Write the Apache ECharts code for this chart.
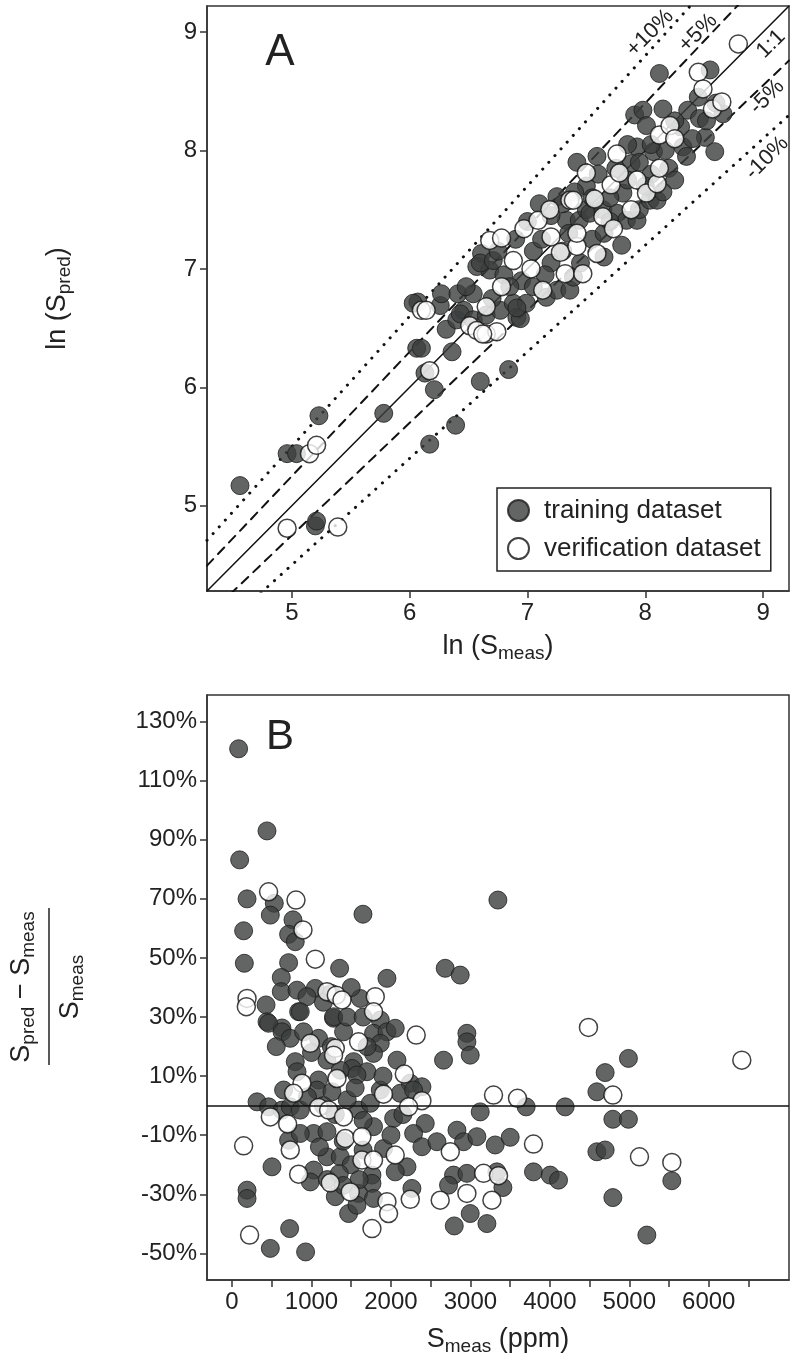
<!DOCTYPE html>
<html>
<head>
<meta charset="utf-8">
<script src="https://cdn.jsdelivr.net/npm/echarts@6/dist/echarts.min.js"></script>
<style>
html, body { margin: 0; padding: 0; background: #fff; }
#main { width: 791px; height: 1362px; }
</style>
</head>
<body>
<div id="main"></div>
<script>
// panel A: ln(S_meas), ln(S_pred)
var trainA = [
  [4.56,5.17],[4.96,5.44],[5.04,5.44],[5.23,5.76],[5.20,4.83],[5.21,4.87],[5.78,5.78],[6.17,5.52],
  [6.39,5.68],[6.60,6.05],[6.84,6.15],[6.21,5.98],[6.13,6.12],[6.36,6.30],[6.06,6.33],[6.10,6.33],
  [6.31,6.49],[6.40,6.57],[6.46,6.65],[6.07,6.72],[6.03,6.71],[6.26,6.69],[6.27,6.79],[6.41,6.79],
  [6.54,6.79],[6.48,6.85],[6.43,6.62],[6.54,6.57],[6.65,6.61],[6.61,7.13],[6.57,7.02],[6.68,6.99],
  [6.60,7.05],[6.71,7.07],[6.77,6.65],[6.88,6.71],[6.91,6.59],[6.94,6.58],[6.99,6.71],[6.91,6.67],
  [7.16,6.76],[7.25,6.82],[7.36,6.82],[7.39,6.93],[7.25,7.61],[7.33,7.41],[7.44,7.41],[7.50,7.50],
  [7.53,7.47],[7.64,7.50],[7.76,7.47],[7.42,7.90],[7.59,7.95],[7.84,7.41],[7.93,7.41],[7.95,7.50],
  [8.04,7.58],[8.10,7.58],[7.81,7.64],[7.91,8.30],[7.98,8.34],[8.01,8.21],[7.93,8.03],[7.88,7.89],
  [8.07,7.99],[8.17,8.00],[8.32,8.03],[8.12,8.65],[8.55,8.68],[8.36,8.34],[8.46,8.27],[8.66,8.31],
  [8.51,8.11],[8.59,7.99],[7.05,7.15],[7.12,7.25],[7.20,7.05],[6.95,6.90],[7.05,6.85],[7.30,7.15],
  [7.45,7.05],[7.55,7.25],[7.65,7.30],[7.70,7.60],[7.85,7.75],[7.95,7.90],[8.05,7.80],[8.20,7.85],
  [8.30,8.20],[8.40,8.10],[8.45,8.45],[8.25,8.25],[7.75,7.85],[7.50,7.70],[7.40,7.65],[7.60,7.80],
  [7.35,7.30],[7.15,6.95],[6.80,6.95],[6.75,7.15],[6.85,6.85],[7.00,7.40],[6.90,7.25],[7.10,7.55],
  [7.20,7.45],[7.65,7.10],[7.80,7.20],[7.70,7.40],[8.00,7.70],[8.15,7.65],[8.25,7.75],[8.35,7.95],
  [8.52,8.25],[8.60,8.40],[8.15,8.35],[8.05,8.05],[7.85,8.05],[7.55,7.60],[7.30,7.55],[6.70,6.75]
];
var verifA = [
  [4.96,4.81],[5.39,4.82],[5.15,5.44],[5.21,5.51],[6.17,6.14],[6.10,6.65],[6.14,6.65],[6.51,6.52],
  [6.57,6.48],[6.65,6.45],[6.74,6.47],[6.62,6.45],[6.65,6.68],[6.68,7.24],[6.78,7.26],[6.78,6.85],
  [6.88,7.07],[6.97,7.34],[7.03,7.00],[7.13,6.82],[7.09,7.41],[7.19,7.50],[7.20,7.27],[7.28,7.14],
  [7.32,6.96],[7.42,7.19],[7.42,7.30],[7.47,6.96],[7.36,7.58],[7.39,7.58],[7.57,7.59],[7.50,7.81],
  [7.59,7.13],[7.64,7.44],[7.73,7.34],[7.71,7.71],[7.78,7.81],[7.76,7.97],[7.88,7.50],[7.93,7.75],
  [8.01,7.64],[8.10,7.72],[8.12,7.85],[8.12,8.13],[8.21,8.21],[8.25,8.10],[8.45,8.66],[8.49,8.52],
  [8.57,8.35],[8.65,8.41],[8.79,8.90]
];

// panel B: S_meas (ppm), relative error (%)
var trainB = [
  [83,120.8],[440,93],[96,83.2],[189,70],[532,68.5],[482,64.5],[1648,64.8],[767,62.9],[712,58.0],
  [796,55.5],[146,59.2],[155,48.2],[712,48.4],[1354,46.5],[1950,43.1],[2683,46.5],[2872,44.2],
  [3346,69.6],[620,43.4],[620,38.6],[818,39.1],[1048,39.7],[943,36.9],[428,34.1],[440,28.4],
  [838,31.8],[1614,36.3],[1866,29],[1278,29.6],[629,26.3],[460,27.9],[629,25.0],[733,22.8],
  [557,20.0],[859,31.8],[1278,30.1],[1404,25.0],[1089,22.8],[1781,24.5],[1950,25.0],[2054,26.2],
  [1866,21.1],[2956,24.5],[2956,21.6],[2998,17.1],[2662,15.4],[1781,17.7],[2076,15.4],[796,14.9],
  [1195,15.4],[1530,14.9],[1510,12.6],[1698,11.5],[1362,12.0],[818,11.5],[1089,8.7],[1572,10.4],
  [2243,7.6],[2390,6.4],[649,5.3],[1069,5.3],[1258,4.7],[1866,5.3],[2117,4.2],[2285,5.3],[315,1.3],
  [460,-0.4],[629,-1.5],[733,-0.4],[859,-1.5],[1593,-1.5],[1740,0.8],[2034,-4.3],[2432,-6.0],
  [2285,-9.4],[2390,-13.9],[2579,-12.2],[2831,-8.3],[2914,-12.2],[3082,-10.5],[3124,-2.1],
  [3312,-13.3],[1027,-9.4],[1195,-8.8],[1781,-7.1],[712,-11.7],[859,-9.4],[1195,-17.3],[1362,-17.3],
  [1907,-14.5],[2202,-20.7],[2054,-22.4],[503,-20.7],[1027,-21.8],[985,-25.8],[1761,-23.5],
  [1761,-26.3],[1300,-30.8],[1593,-29.7],[1781,-31.4],[1467,-36.5],[1572,-33.7],[2264,-28.0],
  [189,-28.6],[189,-31.4],[725,-41.6],[482,-48.3],[926,-49.5],[2788,-23.5],[2956,-22.9],
  [2725,-26.9],[2998,-36.5],[2797,-40.7],[3208,-39.9],[4989,16.0],[4696,11.2],[4592,4.7],
  [3702,-0.4],[4193,-0.4],[4793,-4.6],[4989,-4.6],[3501,-10.7],[4592,-15.6],[4696,-15.0],
  [5535,-25.4],[3794,-22.4],[4004,-23.5],[4109,-25.2],[3333,-22.4],[3409,-27.7],[4793,-31.1],
  [5221,-43.8],[1150,0],[1300,-3],[1450,2],[1550,6],[1650,-5],[1400,-12],[1500,-20],[1650,-15],
  [1200,-25],[1350,-23],[1100,-14],[950,3],[1000,18],[1250,20],[1450,30],[1700,20],[1900,10],
  [2000,-10],[2150,-3],[1600,-25],[1400,-27],[1650,30],[1500,40],[1250,38],[900,25],[1150,35]
];
var verifB = [
  [460,72.4],[805,69.6],[893,59.5],[1048,49.6],[1195,38.6],[1312,37.4],[1384,35.8],[189,36.3],
  [180,33.5],[1803,36.9],[1781,31.8],[985,21.1],[1300,19.4],[1278,17.1],[1593,21.6],[2318,23.9],
  [1321,9.2],[2168,10.7],[880,7.6],[775,4.2],[1907,3.9],[2390,1.7],[482,-3.8],[700,-6.2],
  [1090,-0.6],[1216,-1.5],[1404,-3.8],[2222,-0.4],[3291,3.6],[2747,-15.6],[1425,-11.1],
  [1635,-10.5],[733,-15.0],[146,-13.6],[1635,-18.4],[1781,-18.4],[2054,-16.7],[838,-23.2],
  [1237,-26.1],[1488,-29.2],[1950,-32.5],[1970,-36.5],[1761,-41.6],[2243,-31.7],[221,-43.8],
  [2620,-32.0],[2956,-29.7],[3166,-22.9],[3271,-32.0],[4486,26.5],[6416,15.4],[4793,3.6],
  [3593,2.5],[3794,-13.0],[5128,-17.3],[5535,-19.2],[3354,-23.7]
];

// reference lines in panel A (S_pred = k * S_meas on the ln scale)
var refX = [4.28, 9.22];
var refRatios = [1, 1.05, 0.95, 1.1, 0.9];
var refTypes = ['solid', [9, 7], [9, 7], [0.1, 9], [0.1, 9]];
var refWidths = [1.5, 2, 2, 3, 3];

var ticksA = [5, 6, 7, 8, 9];
var ticksBx = [0, 500, 1000, 1500, 2000, 2500, 3000, 3500, 4000, 4500, 5000, 5500, 6000, 6500];
var labelsBx = [0, 1000, 2000, 3000, 4000, 5000, 6000];
var ticksBy = [-50, -30, -10, 10, 30, 50, 70, 90, 110, 130];

var FONT = '"Liberation Sans", Arial, Helvetica, sans-serif';
var INK = '#222';

var myChart = echarts.init(document.getElementById('main'));

var subRich = {
    sub: { fontSize: 19, fontFamily: FONT, color: INK, verticalAlign: 'bottom', lineHeight: 16 }
};
var nameStyle = { fontSize: 27, fontFamily: FONT, color: INK, lineHeight: 32, rich: subRich };

function axisCommon(ticks, labels) {
    return {
        axisLine: { show: true, onZero: false, lineStyle: { color: '#333', width: 1.5 } },
        axisTick: { show: true, customValues: ticks, length: 7, lineStyle: { color: '#333', width: 1.5 } },
        axisLabel: { customValues: labels, fontSize: 24, fontFamily: FONT, color: INK, margin: 10,
            formatter: function (v) { return String(v); } },
        splitLine: { show: false }
    };
}

var xA = Object.assign({
    gridIndex: 0, type: 'value', min: 4.28, max: 9.22,
    name: 'ln (S{sub|meas})', nameLocation: 'middle', nameGap: 40, nameTextStyle: nameStyle
}, axisCommon(ticksA, ticksA));
var yA = Object.assign({
    gridIndex: 0, type: 'value', min: 4.28, max: 9.22,
    name: 'ln (S{sub|pred})', nameLocation: 'middle', nameGap: 133, nameRotate: 90, nameTextStyle: nameStyle
}, axisCommon(ticksA, ticksA));
var xB = Object.assign({
    gridIndex: 1, type: 'value', min: -315, max: 7010,
    name: 'S{sub|meas} (ppm)', nameLocation: 'middle', nameGap: 44, nameTextStyle: nameStyle
}, axisCommon(ticksBx, labelsBx));
var yB = Object.assign({
    gridIndex: 1, type: 'value', min: -59, max: 139
}, axisCommon(ticksBy, ticksBy));
yB.axisLabel.formatter = function (v) { return v + '%'; };

var refSeries = refRatios.map(function (k, i) {
    return {
        type: 'line', xAxisIndex: 0, yAxisIndex: 0, silent: true, symbol: 'none', z: 1,
        lineStyle: { color: '#111', width: refWidths[i], type: refTypes[i], cap: 'round' },
        data: refX.map(function (x) { return [x, x * k]; })
    };
});

var trainStyle = { color: '#3c3f3e', borderColor: '#1c1c1c', borderWidth: 1 };
var verifStyle = { color: '#ffffff', borderColor: '#111', borderWidth: 1.5 };

function rotLabel(txt, x, y) {
    return {
        type: 'text', x: x, y: y, rotation: Math.PI / 4,
        style: { text: txt, fontSize: 22, fontFamily: FONT, fill: INK, align: 'center', verticalAlign: 'middle' }
    };
}

var option = {
    backgroundColor: '#fff',
    animation: false,
    grid: [
        { left: 207, top: 6, width: 582, height: 585, show: true, borderColor: '#333', borderWidth: 1.5 },
        { left: 207, top: 695, width: 582, height: 585, show: true, borderColor: '#333', borderWidth: 1.5 }
    ],
    xAxis: [xA, xB],
    yAxis: [yA, yB],
    legend: {
        data: ['training dataset', 'verification dataset'],
        orient: 'vertical', left: 497, top: 488,
        itemWidth: 21, itemHeight: 21, itemGap: 11,
        padding: [9, 10, 9, 10],
        borderColor: '#222', borderWidth: 1.5,
        textStyle: { fontSize: 26, fontFamily: FONT, color: INK, lineHeight: 27, padding: [0, 0, 0, 10] }
    },
    graphic: [
        { type: 'text', x: 280, y: 53, style: { text: 'A', fontSize: 44, fontFamily: FONT, fill: INK, align: 'center', verticalAlign: 'middle' } },
        { type: 'text', x: 280, y: 737, style: { text: 'B', fontSize: 42, fontFamily: FONT, fill: INK, align: 'center', verticalAlign: 'middle' } },
        rotLabel('+10%', 650, 33),
        rotLabel('+5%', 698, 33),
        rotLabel('1:1', 771, 44),
        rotLabel('-5%', 767, 97),
        rotLabel('-10%', 767, 158),
        {
            type: 'text', x: 22, y: 987, rotation: Math.PI / 2,
            style: {
                text: 'S{sub|pred} \u2212 S{sub|meas}', fontSize: 27, fontFamily: FONT, fill: INK,
                align: 'center', verticalAlign: 'middle', lineHeight: 32, rich: subRich
            }
        },
        { type: 'line', shape: { x1: 49, y1: 908, x2: 49, y2: 1065 }, style: { stroke: INK, lineWidth: 1.5 } },
        {
            type: 'text', x: 71, y: 987, rotation: Math.PI / 2,
            style: {
                text: 'S{sub|meas}', fontSize: 27, fontFamily: FONT, fill: INK,
                align: 'center', verticalAlign: 'middle', lineHeight: 32, rich: subRich
            }
        }
    ],
    series: refSeries.concat([
        { name: 'training dataset', type: 'scatter', xAxisIndex: 0, yAxisIndex: 0, symbolSize: 18, z: 3, itemStyle: trainStyle, data: trainA },
        { name: 'verification dataset', type: 'scatter', xAxisIndex: 0, yAxisIndex: 0, symbolSize: 18, z: 4, itemStyle: verifStyle, data: verifA },
        {
            name: 'training dataset', type: 'scatter', xAxisIndex: 1, yAxisIndex: 1, symbolSize: 18, z: 3, itemStyle: trainStyle, data: trainB,
            markLine: { silent: true, symbol: 'none', label: { show: false }, lineStyle: { color: '#111', type: 'solid', width: 1.5 }, data: [{ yAxis: 0 }] }
        },
        { name: 'verification dataset', type: 'scatter', xAxisIndex: 1, yAxisIndex: 1, symbolSize: 18, z: 4, itemStyle: verifStyle, data: verifB }
    ])
};

myChart.setOption(option);
</script>
</body>
</html>
